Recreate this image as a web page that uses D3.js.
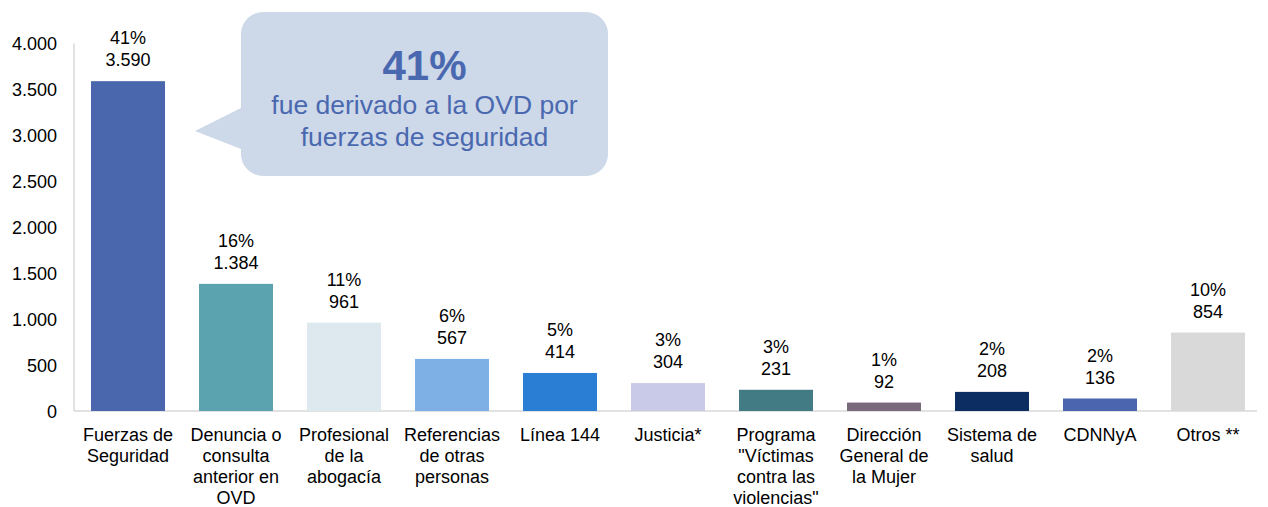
<!DOCTYPE html>
<html>
<head>
<meta charset="utf-8">
<script src="https://cdn.jsdelivr.net/npm/d3@7"></script>
<style>
  body { margin: 0; background: #fff; }
  text { font-family: "Liberation Sans", Arial, sans-serif; }
</style>
</head>
<body>
<svg id="chart" width="1268" height="507"></svg>
<script>
// categories (each label split in lines)
const categories = [
  ["Fuerzas de", "Seguridad"],
  ["Denuncia o", "consulta", "anterior en", "OVD"],
  ["Profesional", "de la", "abogacía"],
  ["Referencias", "de otras", "personas"],
  ["Línea 144"],
  ["Justicia*"],
  ["Programa", "\"Víctimas", "contra las", "violencias\""],
  ["Dirección", "General de", "la Mujer"],
  ["Sistema de", "salud"],
  ["CDNNyA"],
  ["Otros **"]
];
const values = [3590, 1384, 961, 567, 414, 304, 231, 92, 208, 136, 854];
const percents = ["41%", "16%", "11%", "6%", "5%", "3%", "3%", "1%", "2%", "2%", "10%"];
const colors = ["#4a66ad", "#5ba3ae", "#dde9ef", "#7eb0e6", "#2a7fd5", "#c9cae8",
                "#437b84", "#796a7b", "#0c2d62", "#4b66ae", "#d9d9d9"];
const yTicks = [0, 500, 1000, 1500, 2000, 2500, 3000, 3500, 4000];
const calloutTitle = "41%";
const calloutLines = ["fue derivado a la OVD por", "fuerzas de seguridad"];

const svg = d3.select("#chart");
const idx = d3.range(values.length);
const fmt = d => d3.format(",")(d).replace(/,/g, ".");

const x = d3.scaleBand().domain(idx).range([74, 1262]).paddingInner(0.315).paddingOuter(0.1575);
const y = d3.scaleLinear().domain([0, 4000]).range([411, 43.5]);

// axis lines
svg.append("line").attr("x1", 74).attr("x2", 74).attr("y1", y(4000)).attr("y2", y(0))
  .attr("stroke", "#d9d9d9").attr("stroke-width", 1.5);
svg.append("line").attr("x1", 74).attr("x2", 1257).attr("y1", y(0)).attr("y2", y(0))
  .attr("stroke", "#d9d9d9").attr("stroke-width", 1.5);

// y tick labels
svg.selectAll(".ytick").data(yTicks).enter().append("text")
  .attr("x", 57).attr("y", d => y(d) + 6.5)
  .attr("text-anchor", "end").attr("font-size", 18).attr("fill", "#000")
  .text(fmt);

// bars
svg.selectAll(".bar").data(values).enter().append("rect")
  .attr("x", (d, i) => x(i)).attr("width", x.bandwidth())
  .attr("y", d => y(d)).attr("height", d => y(0) - y(d))
  .attr("fill", (d, i) => colors[i]);

// value labels
const lab = svg.selectAll(".lab").data(values).enter().append("text")
  .attr("text-anchor", "middle").attr("font-size", 18).attr("fill", "#000")
  .attr("y", d => y(d) - 37);
lab.append("tspan").attr("x", (d, i) => x(i) + x.bandwidth() / 2).text((d, i) => percents[i]);
lab.append("tspan").attr("x", (d, i) => x(i) + x.bandwidth() / 2).attr("dy", 22).text(fmt);

// category labels
categories.forEach((lines, i) => {
  const t = svg.append("text").attr("text-anchor", "middle").attr("font-size", 18).attr("fill", "#000")
    .attr("y", 441);
  lines.forEach((l, j) => {
    t.append("tspan").attr("x", x(i) + x.bandwidth() / 2).attr("dy", j === 0 ? 0 : 21).text(l);
  });
});

// callout bubble
const bx = 241, by = 12, bw = 367, bh = 164, r = 22;
const bubble = d3.path();
bubble.moveTo(bx + r, by);
bubble.lineTo(bx + bw - r, by);
bubble.arcTo(bx + bw, by, bx + bw, by + r, r);
bubble.lineTo(bx + bw, by + bh - r);
bubble.arcTo(bx + bw, by + bh, bx + bw - r, by + bh, r);
bubble.lineTo(bx + r, by + bh);
bubble.arcTo(bx, by + bh, bx, by + bh - r, r);
bubble.lineTo(bx, 149);
bubble.lineTo(195, 131);
bubble.lineTo(bx, 108);
bubble.lineTo(bx, by + r);
bubble.arcTo(bx, by, bx + r, by, r);
bubble.closePath();
svg.append("path").attr("d", bubble.toString()).attr("fill", "#cdd8e8");

const cx = bx + bw / 2;
svg.append("text").attr("x", cx).attr("y", 80).attr("text-anchor", "middle")
  .attr("font-size", 42).attr("font-weight", "bold").attr("fill", "#4a68b0").text(calloutTitle);
calloutLines.forEach((l, j) => {
  svg.append("text").attr("x", cx).attr("y", 114 + j * 32).attr("text-anchor", "middle")
    .attr("font-size", 26.5).attr("fill", "#4a68b0").text(l);
});
</script>
</body>
</html>
